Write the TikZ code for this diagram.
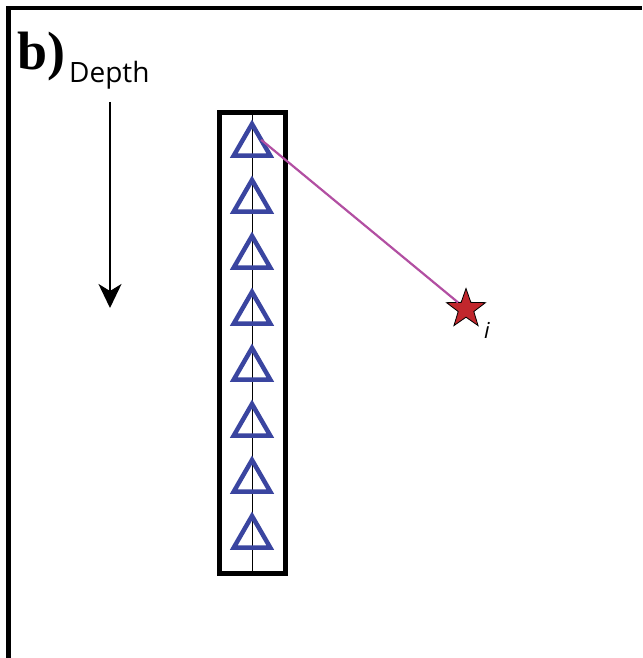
\documentclass[tikz,border=0pt]{standalone}
\usepackage{fontspec}
\newfontfamily\panelfont{Liberation Serif}
\newfontfamily\axisfont{Open Sans}
\usetikzlibrary{arrows.meta,calc,shapes.geometric}
\definecolor{BHBlue}{HTML}{3A45A0}
\definecolor{BHMagenta}{HTML}{B24FA2}
\definecolor{BHRed}{HTML}{C1272D}
\tikzset{
  sensor/.style={regular polygon,regular polygon sides=3,minimum size=42pt,
                 inner sep=0pt,outer sep=0pt,draw=BHBlue,line width=4.5pt},
  source/.style={star,star points=5,star point ratio=2.5,minimum size=41pt,
                 inner sep=0pt,outer sep=0pt,fill=BHRed,draw=black,line width=0.8pt},
  raypath/.style={BHMagenta,line width=2.2pt},
}

\begin{document}
\begin{tikzpicture}[x=1pt,y=-1pt]
    \path[use as bounding box] (0,0) rectangle (642,658);
    % frame, only top and left edges are in view
    \draw[line width=4.5pt] (8.5,658) -- (8.5,8) -- (642,8);
    \node[anchor=base west,inner sep=0pt,font=\panelfont\bfseries\fontsize{54}{54}\selectfont] (panel) at (17,70) {b)};
    \node[anchor=base west,inner sep=0pt,font=\axisfont\fontsize{28}{28}\selectfont] (depth) at (69,83) {Depth};
    \coordinate (dtop) at (110,102);
    \coordinate (dbot) at (110,308);
    \draw[-{Stealth[length=24pt,width=23pt,inset=7pt]},line width=2pt] (dtop) -- (dbot);
    % borehole with receivers
    \node[draw,line width=5pt,minimum width=66pt,minimum height=460pt,inner sep=0pt] (well) at (252,343) {};
    \draw[line width=0.8pt] (well.north) -- (well.south);
    \foreach \i in {1,...,8}
      \node[sensor] (s\i) at (252,{145+56*(\i-1)}) {};
    % event
    \node[source] (src) at (466,309) {};
    \draw[raypath] ($(s1.corner 1)!0.5!(s1.corner 3)$) -- (src);
    \node[anchor=base west,inner sep=0pt,font=\axisfont\itshape\fontsize{22}{22}\selectfont] (srclbl) at (484,338) {i};
  \end{tikzpicture}
\end{document}
